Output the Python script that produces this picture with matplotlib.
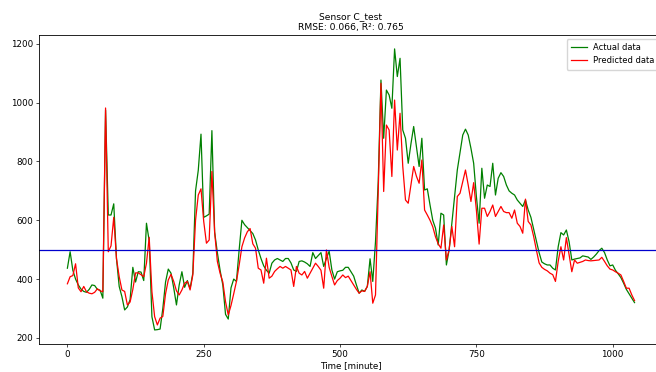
import numpy as np
import matplotlib
matplotlib.use("Agg")
import matplotlib.pyplot as plt

# time axis, one reading every 5 minutes
time = np.arange(0, 1045, 5)

actual = [
    437, 493, 430, 400, 380, 366, 358, 355, 365, 380,   # 0-45
    378, 365, 362, 335, 975, 618, 618, 656, 470, 375,   # 50-95
    340, 295, 305, 330, 440, 390, 425, 424, 395, 590,   # 100-145
    530, 272, 227, 228, 230, 300, 390, 434, 420, 370,   # 150-195
    312, 380, 425, 372, 395, 368, 420, 700, 770, 893,   # 200-245
    610, 615, 621, 905, 560, 490, 430, 380, 280, 264,   # 250-295
    370, 400, 392, 500, 600, 585, 575, 565, 555, 533,   # 300-345
    499, 470, 445, 430, 420, 454, 465, 470, 465, 460,   # 350-395
    470, 470, 455, 431, 426, 460, 462, 458, 452, 443,   # 400-445
    490, 470, 480, 490, 443, 470, 495, 431, 400, 425,   # 450-495
    428, 430, 440, 440, 425, 410, 380, 352, 363, 358,   # 500-545
    375, 469, 392, 527, 732, 1077, 879, 1043, 1026, 981,  # 550-595
    1183, 1089, 1151, 907, 879, 794, 860, 919, 850, 783,  # 600-645
    879, 703, 707, 652, 600, 573, 516, 624, 618, 448,   # 650-695
    499, 590, 681, 771, 830, 890, 910, 890, 845, 794,   # 700-745
    681, 590, 777, 675, 720, 715, 794, 686, 743, 762,   # 750-795
    749, 720, 700, 692, 686, 669, 658, 647, 669, 635,   # 800-845
    610, 570, 530, 490, 458, 452, 448, 448, 437, 431,   # 850-895
    510, 558, 550, 567, 527, 465, 468, 470, 472, 479,   # 900-945
    477, 475, 467, 475, 485, 497, 505, 490, 465, 445,   # 950-995
    448, 430, 418, 405, 386, 365, 350, 335, 320,        # 1000-1040
]

predicted = [
    384, 408, 412, 452, 370, 357, 375, 357, 352, 350,   # 0-45
    355, 367, 360, 357, 982, 493, 513, 610, 470, 408,   # 50-95
    363, 358, 312, 322, 365, 421, 421, 415, 408, 454,   # 100-145
    542, 357, 272, 244, 267, 273, 350, 397, 416, 392,   # 150-195
    360, 346, 363, 386, 392, 363, 414, 600, 686, 707,   # 200-245
    596, 522, 533, 766, 560, 460, 420, 390, 323, 278,   # 250-295
    310, 350, 392, 448, 510, 540, 561, 572, 520, 505,   # 300-345
    437, 431, 386, 471, 403, 410, 426, 435, 443, 437,   # 350-395
    443, 437, 431, 375, 443, 420, 414, 426, 403, 420,   # 400-445
    437, 454, 443, 430, 369, 499, 440, 409, 380, 395,   # 450-495
    403, 414, 405, 410, 395, 380, 365, 352, 360, 358,   # 500-545
    375, 425, 318, 346, 698, 1066, 698, 924, 907, 749,  # 550-595
    1009, 839, 964, 783, 669, 658, 720, 783, 750, 726,  # 600-645
    805, 635, 618, 600, 578, 544, 520, 505, 584, 465,   # 650-695
    500, 579, 510, 681, 692, 732, 771, 720, 664, 728,   # 700-745
    635, 519, 641, 641, 613, 630, 652, 613, 630, 647,   # 750-795
    630, 626, 626, 607, 635, 590, 579, 556, 672, 596,   # 800-845
    584, 545, 499, 455, 440, 433, 428, 420, 415, 392,   # 850-895
    460, 510, 465, 541, 482, 425, 465, 454, 457, 460,   # 900-945
    465, 463, 462, 463, 464, 465, 474, 460, 445, 434,   # 950-995
    431, 425, 420, 414, 392, 369, 369, 346, 327,        # 1000-1040
]

threshold = 500

fig = plt.figure(figsize=(6.56, 3.72), dpi=100)
ax = fig.add_axes([0.0595, 0.0753, 0.951, 0.831])

fs = 6.3
lw = 0.9

ax.plot(time, actual, c='g', lw=lw, label='Actual data')
ax.plot(time, predicted, c='r', lw=lw, label='Predicted data')
ax.axhline(threshold, c='mediumblue', lw=lw)

ax.set_title("Sensor C_test\nRMSE: 0.066, R²: 0.765", fontsize=fs + 0.3, pad=3.5)
ax.set_xlabel('Time [minute]', fontsize=fs, labelpad=2)
ax.set_xticks([0, 250, 500, 750, 1000])
ax.tick_params(labelsize=fs, length=2.2, width=0.5, pad=2)
for s in ax.spines.values():
    s.set_linewidth(0.6)

ax.legend(loc='upper right', bbox_to_anchor=(1.0, 1.0), fontsize=6.0,
          handlelength=2, handletextpad=0.7, borderpad=0.5,
          framealpha=0.8, fancybox=True)

fig.savefig("out.png", dpi=100)
